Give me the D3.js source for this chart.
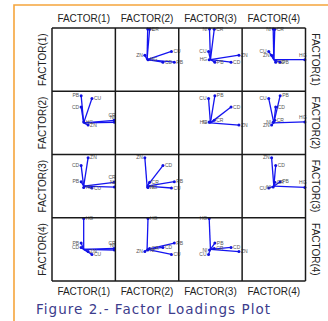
<!DOCTYPE html>
<html>
<head>
<meta charset="utf-8">
<script src="https://cdn.jsdelivr.net/npm/d3@7"></script>
<style>
  body { margin: 0; background: #fff; }
  svg { display: block; }
</style>
</head>
<body>
<div class="chart"></div>
<script>
// elements and their loadings on each factor
const elements = ['PB', 'CU', 'CD', 'ZN', 'NI', 'CR', 'HG'];
const factor1 = [-0.08, 0.26, -0.08, 0.14, 0.97, 0.96, 0.00];
const factor2 = [0.86, 0.77, 0.50, -0.07, 0.02, 0.08, 0.03];
const factor3 = [0.14, -0.06, 0.65, 0.90, -0.03, 0.12, -0.04];
const factor4 = [0.20, -0.16, 0.06, -0.07, -0.02, 0.03, 0.98];
const factorLabels = ['FACTOR(1)', 'FACTOR(2)', 'FACTOR(3)', 'FACTOR(4)'];
const caption = 'Figure 2.- Factor Loadings Plot';

const factors = [factor1, factor2, factor3, factor4];
const width = 328;
const height = 321;

const svg = d3.select('.chart')
  .append('svg')
  .attr('width', width)
  .attr('height', height);

// orange frame on the top and left side
svg.append('path')
  .attr('d', `M14,${height} V5 H${width}`)
  .attr('fill', 'none')
  .attr('stroke', '#f5a53c')
  .attr('stroke-width', 1.6);

const col = d3.scaleBand().domain(d3.range(4)).range([52, 305.5]);
const row = d3.scaleBand().domain(d3.range(4)).range([28, 281]);
const bw = col.bandwidth();
const bh = row.bandwidth();

const panels = [];
d3.range(4).forEach(i => d3.range(4).forEach(j => panels.push({ i, j })));

const cell = svg.selectAll('g.panel')
  .data(panels)
  .enter()
  .append('g')
  .attr('class', 'panel')
  .attr('transform', d => `translate(${col(d.j)},${row(d.i)})`);

cell.each(function (p) {
  if (p.i === p.j) return;
  const g = d3.select(this);
  const x = d3.scaleLinear().domain([-1, 1]).range([0, bw]);
  const y = d3.scaleLinear().domain([-1, 1]).range([bh, 0]);
  const pts = elements.map((name, k) => ({
    name,
    vx: factors[p.j][k],
    vy: factors[p.i][k]
  }));

  g.selectAll('line.vec')
    .data(pts)
    .enter()
    .append('line')
    .attr('class', 'vec')
    .attr('x1', x(0))
    .attr('y1', y(0))
    .attr('x2', d => x(d.vx))
    .attr('y2', d => y(d.vy))
    .attr('stroke', '#1414f0')
    .attr('stroke-width', 1.3);

  g.selectAll('circle')
    .data(pts)
    .enter()
    .append('circle')
    .attr('cx', d => x(d.vx))
    .attr('cy', d => y(d.vy))
    .attr('r', 1.5)
    .attr('fill', '#1010e0');

  g.selectAll('text.lab')
    .data(pts)
    .enter()
    .append('text')
    .attr('class', 'lab')
    .attr('x', d => d.vx > 0.93 ? x(d.vx) - 2 : (d.vx < 0 ? x(d.vx) - 2 : x(d.vx) + 2))
    .attr('y', d => d.vx > 0.93 ? y(d.vy) - 3 : y(d.vy) + 1.8)
    .attr('text-anchor', d => d.vx > 0.93 ? 'middle' : (d.vx < 0 ? 'end' : 'start'))
    .attr('font-family', 'Liberation Sans, Arial, sans-serif')
    .attr('font-size', 5)
    .attr('fill', '#555')
    .text(d => d.name);
});

// panel grid
const grid = svg.append('g')
  .attr('stroke', '#1a1a1a')
  .attr('stroke-width', 1.5)
  .attr('fill', 'none');

grid.selectAll('line.v')
  .data(d3.range(5))
  .enter()
  .append('line')
  .attr('x1', d => 52 + d * bw)
  .attr('x2', d => 52 + d * bw)
  .attr('y1', 28)
  .attr('y2', 281);

grid.selectAll('line.h')
  .data(d3.range(5))
  .enter()
  .append('line')
  .attr('y1', d => 28 + d * bh)
  .attr('y2', d => 28 + d * bh)
  .attr('x1', 52)
  .attr('x2', 305.5);

const labelFont = 'Liberation Sans, Arial, sans-serif';

// column labels, top and bottom
[22, 294.5].forEach(yy => {
  svg.append('g')
    .selectAll('text')
    .data(factorLabels)
    .enter()
    .append('text')
    .attr('x', (d, k) => col(k) + bw / 2)
    .attr('y', yy)
    .attr('text-anchor', 'middle')
    .attr('font-family', labelFont)
    .attr('font-size', 10)
    .attr('fill', '#222')
    .text(d => d);
});

// row labels, left and right
svg.append('g')
  .selectAll('text')
  .data(factorLabels)
  .enter()
  .append('text')
  .attr('transform', (d, k) => `translate(45.5,${row(k) + bh / 2}) rotate(-90)`)
  .attr('text-anchor', 'middle')
  .attr('font-family', labelFont)
  .attr('font-size', 10)
  .attr('fill', '#222')
  .text(d => d);

svg.append('g')
  .selectAll('text')
  .data(factorLabels)
  .enter()
  .append('text')
  .attr('transform', (d, k) => `translate(312,${row(k) + bh / 2}) rotate(90)`)
  .attr('text-anchor', 'middle')
  .attr('font-family', labelFont)
  .attr('font-size', 10)
  .attr('fill', '#222')
  .text(d => d);

svg.append('text')
  .attr('x', 36)
  .attr('y', 313.5)
  .attr('font-family', 'DejaVu Sans, Verdana, sans-serif')
  .attr('font-size', 13.5)
  .attr('textLength', 234)
  .attr('lengthAdjust', 'spacing')
  .attr('fill', '#3c3c8c')
  .text(caption);
</script>
</body>
</html>
